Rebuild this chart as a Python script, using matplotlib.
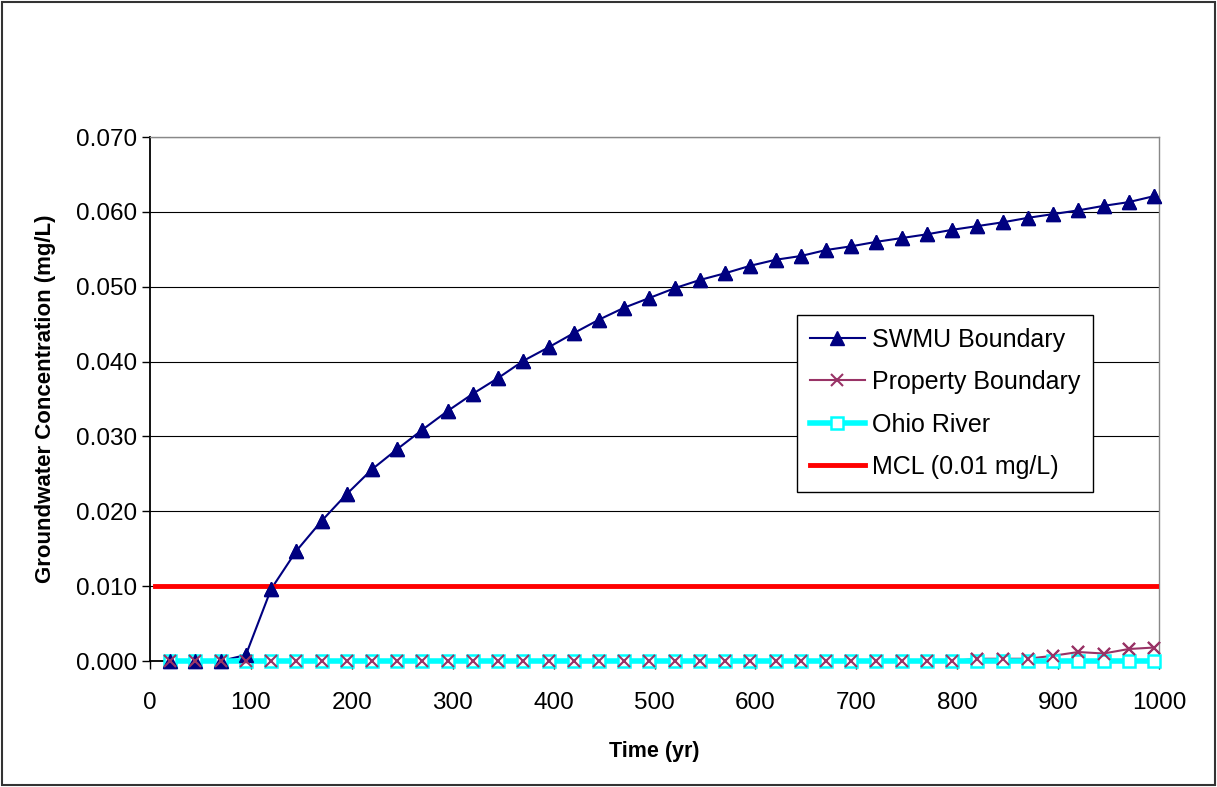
import matplotlib

matplotlib.use("Agg")
import matplotlib.pyplot as plt
from matplotlib.patches import Rectangle
from matplotlib.ticker import FormatStrFormatter, MultipleLocator

plt.rcParams["font.family"] = ["Liberation Sans", "DejaVu Sans"]

# time axis, one point every 25 yr
years = [20 + 25 * i for i in range(40)]

swmu = [
    0.0, 0.0, 0.0, 0.0008, 0.0096, 0.0147, 0.0187, 0.0223, 0.0256, 0.0283,
    0.0309, 0.0334, 0.0357, 0.0378, 0.0401, 0.0419, 0.0438, 0.0456, 0.0472, 0.0485,
    0.0498, 0.0509, 0.0518, 0.0528, 0.0536, 0.0541, 0.0549, 0.0554, 0.0560, 0.0565,
    0.0570, 0.0576, 0.0581, 0.0586, 0.0592, 0.0597, 0.0602, 0.0608, 0.0613, 0.0621,
]
prop_boundary = [0.0] * 32 + [0.0003, 0.0003, 0.0003, 0.0007, 0.0012, 0.0010, 0.0016, 0.0018]
ohio_river = [0.0] * 40
mcl_x = [5, 998]
mcl_y = [0.01, 0.01]

NAVY, PLUM, CYAN, RED = "#000080", "#993366", "#00FFFF", "#FF0000"

W, H = 1217, 787
fig = plt.figure(figsize=(W / 100, H / 100), dpi=100)
fig.patches.append(Rectangle((2 / W, 2 / H), 1 - 4 / W, 1 - 4 / H, transform=fig.transFigure,
                             fill=False, edgecolor="#333333", linewidth=1.5))

ax = fig.add_axes([150 / W, 1 - 661 / H, 1009 / W, 524 / H])
ax.set_xlim(0, 1000)
ax.set_ylim(0, 0.070)
ax.yaxis.set_major_locator(MultipleLocator(0.01))
ax.xaxis.set_major_locator(MultipleLocator(100))
ax.yaxis.set_major_formatter(FormatStrFormatter("%.3f"))
ax.grid(axis="y", color="black", linewidth=0.8)
ax.set_axisbelow(True)

for side in ("top", "right"):
    ax.spines[side].set_color("#888888")
    ax.spines[side].set_linewidth(1.0)
for side in ("left", "bottom"):
    ax.spines[side].set_linewidth(1.3)

ax.tick_params(axis="both", labelsize=17.5, direction="out", length=6, width=1, colors="black")
ax.tick_params(axis="x", pad=16)

swmu_style = dict(color=NAVY, marker="^", markersize=10)
prop_style = dict(color=PLUM, marker="x", markersize=9, markeredgewidth=1.5)

ax.plot(years, swmu, linewidth=1.5, label="SWMU Boundary", zorder=2, clip_on=False, **swmu_style)
ax.plot(years, prop_boundary, linewidth=1.5, label="Property Boundary", zorder=2.1,
        clip_on=False, **prop_style)
ax.plot(years, ohio_river, color=CYAN, linewidth=4, marker="s", markersize=8,
        markerfacecolor="white", markeredgecolor=CYAN, markeredgewidth=1.8,
        label="Ohio River", zorder=3, clip_on=False)
ax.plot(mcl_x, mcl_y, color=RED, linewidth=3.5, label="MCL (0.01 mg/L)", zorder=3)

# markers of the first two series sit on top of the Ohio River line, as in Excel
ax.plot(years, swmu, linestyle="none", zorder=4, clip_on=False, **swmu_style)
ax.plot(years, prop_boundary, linestyle="none", zorder=4.1, clip_on=False, **prop_style)

leg = ax.legend(loc="upper left", bbox_to_anchor=(647 / 1009, 346 / 524), fontsize=18,
                frameon=True, fancybox=False, edgecolor="black", framealpha=1,
                borderpad=0.5, labelspacing=0.74, handlelength=2.2, handletextpad=0.3,
                borderaxespad=0)
leg.get_frame().set_linewidth(1.0)

ax.set_xlabel("Time (yr)", fontsize=15.5, fontweight="bold", labelpad=20)
ax.set_ylabel("Groundwater Concentration (mg/L)", fontsize=16, fontweight="bold", labelpad=14)

fig.savefig("out.png", dpi=100)
